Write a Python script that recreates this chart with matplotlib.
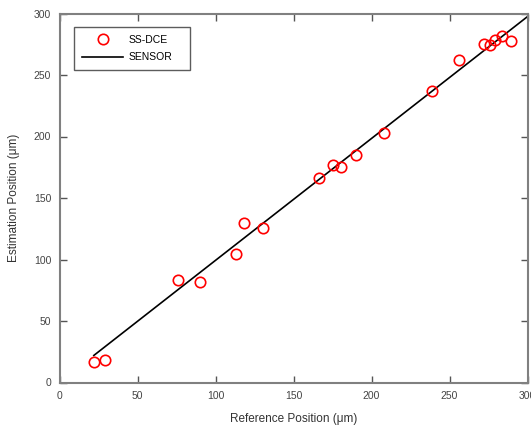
import numpy as np
import matplotlib.pyplot as plt

plt.rcParams['font.family'] = ['Liberation Sans', 'DejaVu Sans']

# measured points (SS-DCE)
ref_pos = [22.1, 29.0, 76.0, 90.3, 113.1, 118.3, 130.4, 166.5, 175.3, 180.2,
           189.9, 207.8, 239.0, 256.3, 271.9, 276.2, 279.2, 283.8, 289.4]
est_pos = [16.9, 18.5, 83.3, 81.7, 104.5, 130.0, 125.6, 166.5, 177.1, 175.5,
           185.0, 203.1, 237.0, 262.2, 275.4, 274.1, 278.2, 281.7, 277.9]

# sensor reference line
sensor_x = [22, 300]
sensor_y = [22, 297.5]

ticks = [0, 50, 100, 150, 200, 250, 300]

fig = plt.figure(figsize=(5.31, 4.29), dpi=100)
ax = fig.add_axes([59.5 / 531, 1 - 382.5 / 429, 468 / 531, 369 / 429])

ax.plot(ref_pos, est_pos, 'o', mfc='none', mec='red', ms=7.5, mew=1.2,
        label='SS-DCE', zorder=3)
ax.plot(sensor_x, sensor_y, '-', color='black', lw=1.2, label='SENSOR')

ax.set_xlim(0, 300)
ax.set_ylim(0, 300)
ax.set_xticks(ticks)
ax.set_yticks(ticks)

for s in ax.spines.values():
    s.set_color('#808080')
    s.set_linewidth(1.5)
ax.tick_params(direction='in', top=True, right=True, length=5, width=1,
               color='#555555', labelsize=7.5, labelcolor='#444444', pad=6)

ax.set_xlabel('Reference Position (μm)', fontsize=8.5, color='#333333', labelpad=9)
ax.set_ylabel('Estimation Position (μm)', fontsize=8.5, color='#333333', labelpad=10)

leg = ax.legend(loc='upper left', bbox_to_anchor=(0.031, 0.963, 0.247, 0.0),
                mode='expand', fontsize=7.5,
                frameon=True, fancybox=False, edgecolor='#333333',
                borderpad=0.75, handlelength=4.0, handletextpad=0.45,
                labelspacing=0.7, borderaxespad=0)
leg.get_frame().set_linewidth(1.0)

fig.savefig('out.png', dpi=100)
